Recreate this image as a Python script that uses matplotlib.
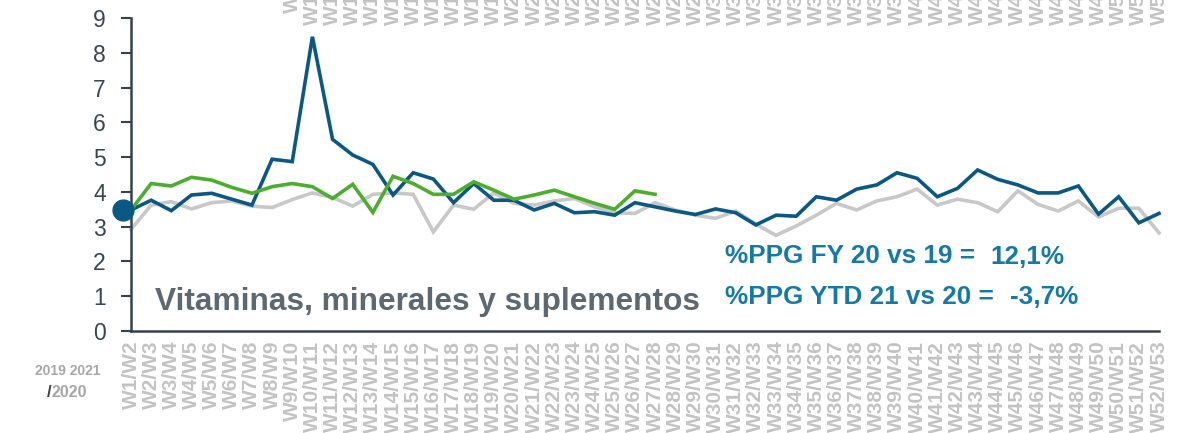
import matplotlib
matplotlib.use("Agg")
import matplotlib.pyplot as plt
import matplotlib.transforms as mtransforms

plt.rcParams['font.family'] = ['Liberation Sans', 'DejaVu Sans']

weeks = [f"W{i}/W{i+1}" for i in range(1, 53)]

serie_2020 = [3.48, 3.76, 3.46, 3.91, 3.96, 3.79, 3.62, 4.94, 4.87, 8.46,
              5.51, 5.06, 4.79, 3.91, 4.55, 4.37, 3.69, 4.24, 3.76, 3.76,
              3.48, 3.67, 3.40, 3.43, 3.33, 3.69, 3.57, 3.45, 3.35, 3.51,
              3.40, 3.05, 3.33, 3.30, 3.86, 3.76, 4.08, 4.20, 4.55, 4.39,
              3.86, 4.10, 4.63, 4.36, 4.20, 3.97, 3.97, 4.17, 3.36, 3.86,
              3.11, 3.38]

serie_2019 = [2.92, 3.62, 3.72, 3.51, 3.69, 3.74, 3.59, 3.55, 3.78, 3.97,
              3.84, 3.59, 3.93, 3.97, 3.93, 2.85, 3.62, 3.50, 3.97, 3.67,
              3.62, 3.74, 3.81, 3.57, 3.40, 3.38, 3.69, 3.48, 3.33, 3.24,
              3.45, 3.07, 2.75, 3.02, 3.33, 3.67, 3.48, 3.74, 3.86, 4.08,
              3.62, 3.79, 3.69, 3.43, 4.03, 3.64, 3.45, 3.74, 3.28, 3.53,
              3.53, 2.82]

serie_2021 = [3.48, 4.24, 4.17, 4.42, 4.34, 4.13, 3.96, 4.15, 4.24, 4.15,
              3.81, 4.22, 3.41, 4.45, 4.24, 3.93, 3.93, 4.29, 4.05, 3.79,
              3.91, 4.05, 3.86, 3.67, 3.50, 4.03, 3.93]

yticks = list(range(0, 10))

BLUE = "#0b5884"
GREEN = "#4bae2c"
GRAY = "#c8c8c8"
AXIS = "#34424e"
LABEL_GRAY = "#c3c3c3"
TEXT_BLUE = "#157aa7"

W, H = 1195, 433
fig = plt.figure(figsize=(W / 100, H / 100), dpi=100)
ax = fig.add_axes([131 / W, 1 - 331 / H, (1159 - 131) / W, (331 - 18) / H])

x = list(range(len(weeks)))
ax.plot(x, serie_2019, color=GRAY, lw=2.6, solid_joinstyle='miter', zorder=2, clip_on=False)
ax.plot(x, serie_2020, color=BLUE, lw=2.6, solid_joinstyle='miter', zorder=3, clip_on=False)
ax.plot(list(range(len(serie_2021))), serie_2021, color=GREEN, lw=2.6,
        solid_joinstyle='miter', zorder=4, clip_on=False)
off = mtransforms.ScaledTranslation(-8 / 100, 0, fig.dpi_scale_trans)
ax.plot([x[0]], [serie_2020[0]], 'o', color=BLUE, ms=15, zorder=5, clip_on=False,
        transform=ax.transData + off)

ax.set_xlim(0, len(weeks) - 1)
ax.set_ylim(0, 9)
ax.set_yticks(yticks)
ax.set_yticklabels([str(v) for v in yticks], fontsize=16.5, color="#3a4752")
ax.tick_params(axis='y', length=7, width=1.5, color=AXIS, pad=11)
ax.set_xticks(x)
ax.set_xticklabels(weeks, rotation=90, fontsize=15, fontweight='bold',
                   color=LABEL_GRAY, va='top', ha='center')
ax.tick_params(axis='x', length=0, pad=7)

for s in ['top', 'right']:
    ax.spines[s].set_visible(False)
for s in ['left', 'bottom']:
    ax.spines[s].set_color(AXIS)
    ax.spines[s].set_linewidth(1.8)

# top clipped category labels
ttrans = mtransforms.blended_transform_factory(ax.transData, fig.transFigure)
for i in range(8, len(weeks)):
    ypos = 1 - (13 if i == 8 else 25) / H
    ax.text(i, ypos, weeks[i], transform=ttrans, rotation=90, ha='center', va='bottom',
            fontsize=15, fontweight='bold', color=LABEL_GRAY, clip_on=False)

fig.text(155 / W, 1 - 310 / H, "Vitaminas, minerales y suplementos", fontsize=22.8,
         fontweight='bold', color="#5d6870", ha='left', va='baseline')
fig.text(725 / W, 1 - 263 / H, "%PPG FY 20 vs 19 =", fontsize=18.8, fontweight='bold',
         color=TEXT_BLUE, ha='left', va='baseline')
fig.text(990 / W, 1 - 264 / H, "12,1%", fontsize=18.8, fontweight='bold',
         color=TEXT_BLUE, ha='left', va='baseline')
fig.text(725 / W, 1 - 304 / H, "%PPG YTD 21 vs 20 =", fontsize=18.8, fontweight='bold',
         color=TEXT_BLUE, ha='left', va='baseline')
fig.text(1010 / W, 1 - 304 / H, "-3,7%", fontsize=18.8, fontweight='bold',
         color=TEXT_BLUE, ha='left', va='baseline')

fig.text(35 / W, 1 - 375 / H, "2019 2021", fontsize=10, fontweight='bold',
         color="#a6a6a6", ha='left', va='baseline')
fig.text(51 / W, 1 - 397 / H, "/", fontsize=12, fontweight='bold',
         color="#404040", ha='right', va='baseline')
fig.text(52 / W, 1 - 397 / H, "2020", fontsize=11.5, fontweight='bold',
         color="#a6a6a6", ha='left', va='baseline')

fig.savefig("out.png", dpi=100)
